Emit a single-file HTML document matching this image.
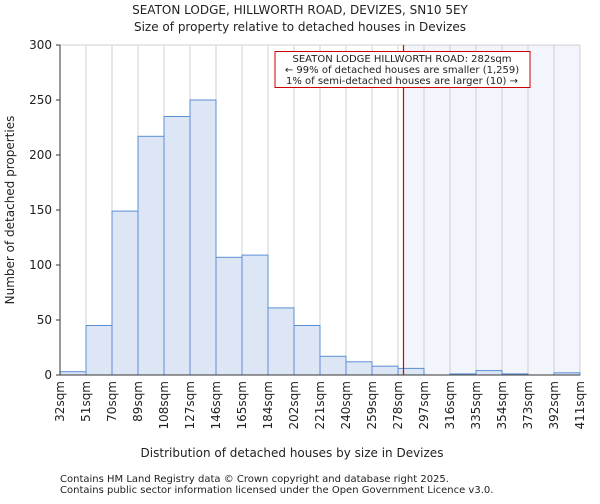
<!DOCTYPE html>
<html><head><meta charset="utf-8"><style>
body{margin:0;background:#fff;font-family:"DejaVu Sans","Liberation Sans",sans-serif;}
svg text{font-family:"DejaVu Sans","Liberation Sans",sans-serif;fill:#222;}
</style></head><body>
<svg id="c" width="600" height="500" viewBox="0 0 600 500" xmlns="http://www.w3.org/2000/svg">
<text x="300" y="14" font-size="12" text-anchor="middle">SEATON LODGE, HILLWORTH ROAD, DEVIZES, SN10 5EY</text>
<text x="300" y="31" font-size="12" text-anchor="middle">Size of property relative to detached houses in Devizes</text>
<g id="plot"></g>
<text x="292" y="457" font-size="12" text-anchor="middle">Distribution of detached houses by size in Devizes</text>
<text transform="translate(14,210) rotate(-90)" font-size="12" text-anchor="middle">Number of detached properties</text>
<text x="60" y="482" font-size="10">Contains HM Land Registry data © Crown copyright and database right 2025.</text>
<text x="60" y="493" font-size="10">Contains public sector information licensed under the Open Government Licence v3.0.</text>
</svg>
<script>
const binLabels=["32sqm","51sqm","70sqm","89sqm","108sqm","127sqm","146sqm","165sqm","184sqm","202sqm","221sqm","240sqm","259sqm","278sqm","297sqm","316sqm","335sqm","354sqm","373sqm","392sqm","411sqm"];
const counts=[3,45,149,217,235,250,107,109,61,45,17,12,8,6,0,1,4,1,0,2];
const yTicks=[0,50,100,150,200,250,300];
const propertyIndex=13+4/19;
const NS="http://www.w3.org/2000/svg";
const L=60,R=580,T=45,B=375,yMax=300;
const bw=(R-L)/counts.length;
const xs=i=>L+i*bw, ys=v=>B-(B-T)*v/yMax;
const g=document.getElementById('plot');
function mk(t,a){const e=document.createElementNS(NS,t);for(const k in a)e.setAttribute(k,a[k]);g.appendChild(e);return e;}
const px=Math.round(xs(propertyIndex))+0.5;
let e=mk('rect',{x:px,y:T,width:R-px,height:B-T,fill:'#f2f5fc'});


binLabels.forEach((l,i)=>{const x=xs(i);
 let gl=mk('line',{x1:x,x2:x,y1:T,y2:B,stroke:'#d0d0d0','stroke-width':1});
 
 
 let t=mk('text',{transform:`translate(${x+4},${B+6}) rotate(-90)`,'font-size':12,'text-anchor':'end'});t.textContent=l;
 
 
});
mk('line',{x1:L,x2:R,y1:T,y2:T,stroke:'#d0d0d0'});
counts.forEach((v,i)=>{ if(v<=0)return;
 let r=mk('rect',{x:xs(i),y:ys(v),width:bw,height:B-ys(v),fill:'#dce6f4',stroke:'#5b8fd6','stroke-width':1});
 
 
});
yTicks.forEach(v=>{const y=ys(v);
 mk('line',{x1:L-4,x2:L,y1:y,y2:y,stroke:'#333'});
 let t=mk('text',{x:L-8,y:y+4,'font-size':12,'text-anchor':'end'});t.textContent=v;
 
 
});
mk('line',{x1:L,x2:L,y1:T,y2:B,stroke:'#333'});
mk('line',{x1:L,x2:R,y1:B,y2:B,stroke:'#333'});
let rl=mk('line',{x1:px,x2:px,y1:T,y2:B,stroke:'#e00000','stroke-width':1.2});


let box=mk('rect',{x:275,y:51.5,width:255,height:36,fill:'#fff',stroke:'#cc0000','stroke-width':1});


["SEATON LODGE HILLWORTH ROAD: 282sqm","← 99% of detached houses are smaller (1,259)","1% of semi-detached houses are larger (10) →"].forEach((s,i)=>{
 let t=mk('text',{x:402,y:62+i*11,'font-size':10,'text-anchor':'middle'});t.textContent=s;
 
 
});
</script>
</body></html>
